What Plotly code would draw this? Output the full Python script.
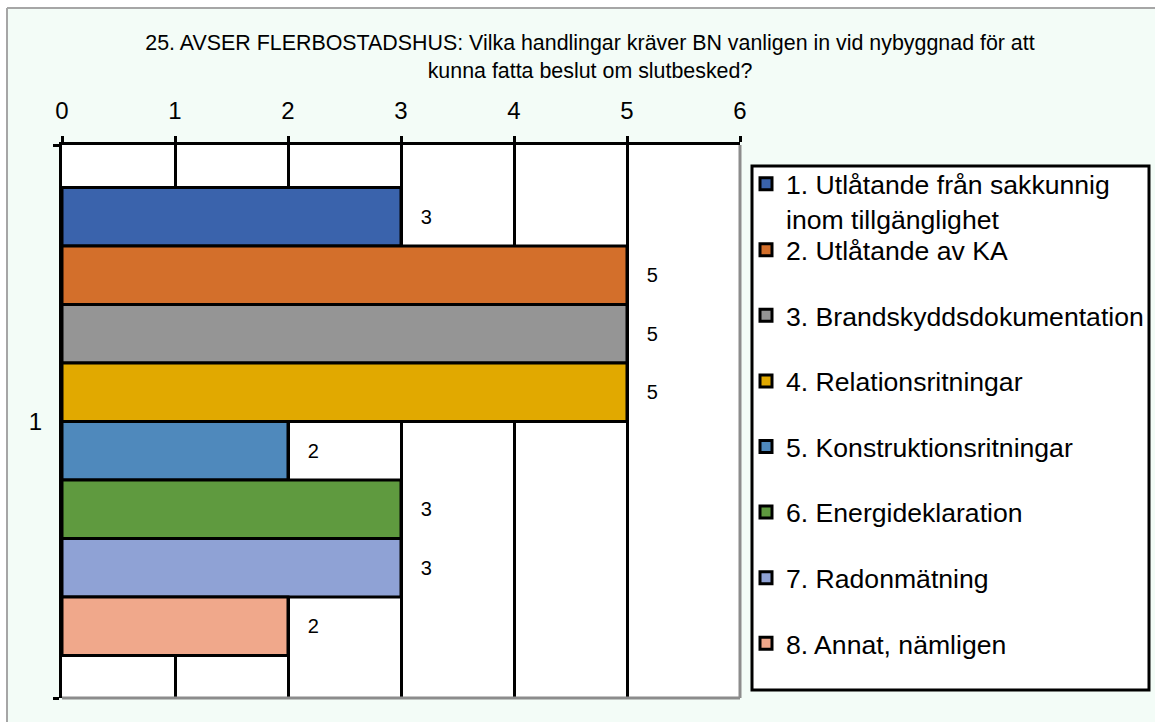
import plotly.graph_objects as go

# ---------------- data ----------------
categories = ["1"]
series_names = [
    "1. Utlåtande från sakkunnig<br>inom tillgänglighet",
    "2. Utlåtande av KA",
    "3. Brandskyddsdokumentation",
    "4. Relationsritningar",
    "5. Konstruktionsritningar",
    "6. Energideklaration",
    "7. Radonmätning",
    "8. Annat, nämligen",
]
series_values = [3, 5, 5, 5, 2, 3, 3, 2]
series_colors = ["#3A63AC", "#D36F2B", "#959595", "#E1A900",
                 "#4F89BC", "#5F9A3F", "#8FA2D5", "#F0A88B"]
x_tick_values = [0, 1, 2, 3, 4, 5, 6]
title_text = ("25. AVSER FLERBOSTADSHUS: Vilka handlingar kräver BN vanligen in vid nybyggnad för att"
              "<br>kunna fatta beslut om slutbesked?")

# ---------------- layout geometry ----------------
W, H = 1155, 722
ML, MR, MT, MB = 62, 415, 145, 24
PW, PH = W - ML - MR, H - MT - MB


def px_x(p):
    return (p - ML) / PW


def px_y(p):
    return (H - MB - p) / PH


FONT = "Liberation Sans, Arial, sans-serif"
NBSP = "\u00a0"

fig = go.Figure()
for i, (name, val, col) in enumerate(zip(series_names, series_values, series_colors)):
    fig.add_trace(go.Bar(
        y=categories,
        x=[val],
        orientation="h",
        name=name,
        marker=dict(color=col, line=dict(color="black", width=3)),
        text=[val],
        texttemplate=NBSP * 3 + "%{x}",
        textposition="outside",
        textfont=dict(size=20, color="black", family=FONT),
        cliponaxis=False,
        legend="legend" if i == 0 else "legend2",
        legendgroup=f"g{i}",
        hoverinfo="x+name",
    ))

MINT = "#F3FCF7"
GRAY = "#8C8C8C"
shapes = [
    # chart background (mint) inside thin outer border
    dict(type="rect", xref="paper", yref="paper", layer="below",
         x0=px_x(7), x1=px_x(W + 5), y0=px_y(H + 5), y1=px_y(8),
         fillcolor=MINT, line=dict(width=0)),
    dict(type="line", xref="paper", yref="paper", layer="below",
         x0=px_x(7), x1=px_x(7), y0=px_y(H + 5), y1=px_y(8),
         line=dict(color="#A6A6A6", width=2)),
    dict(type="line", xref="paper", yref="paper", layer="below",
         x0=px_x(7), x1=px_x(W + 5), y0=px_y(8), y1=px_y(8),
         line=dict(color="#A6A6A6", width=2)),
    # white plot area
    dict(type="rect", xref="paper", yref="paper", layer="below",
         x0=0, x1=1, y0=0, y1=1, fillcolor="white", line=dict(width=0)),
    # legend box
    dict(type="rect", xref="paper", yref="paper", layer="below",
         x0=px_x(752), x1=px_x(1149), y0=px_y(690), y1=px_y(166),
         fillcolor="white", line=dict(color="black", width=3)),
    # gray right and bottom plot-area border
    dict(type="line", xref="paper", yref="paper", layer="above",
         x0=1, x1=1, y0=0, y1=1, line=dict(color=GRAY, width=3)),
    dict(type="line", xref="paper", yref="paper", layer="above",
         x0=0, x1=1, y0=0, y1=0, line=dict(color=GRAY, width=3)),
]

legend_common = dict(
    xanchor="left", yanchor="top",
    bgcolor="rgba(0,0,0,0)", borderwidth=0,
    font=dict(size=26.6, color="black", family=FONT),
    valign="top", itemwidth=30,
)

fig.update_layout(
    width=W, height=H,
    margin=dict(l=ML, r=MR, t=MT, b=MB, pad=0, autoexpand=False),
    paper_bgcolor="white",
    plot_bgcolor="rgba(0,0,0,0)",
    font=dict(family=FONT, color="black"),
    barmode="group",
    bargap=0.154,
    bargroupgap=0,
    title=dict(
        text=title_text,
        x=590 / W, xref="container", xanchor="center",
        y=1 - 50 / H, yref="container", yanchor="top",
        font=dict(size=21.4, color="black", family=FONT),
    ),
    xaxis=dict(
        side="top", range=[0, 6], tickvals=x_tick_values,
        showgrid=True, gridcolor="black", gridwidth=3,
        showline=True, linecolor="black", linewidth=3,
        ticks="outside", ticklen=6, tickwidth=3, tickcolor="black",
        tickfont=dict(size=24, color="black", family=FONT),
        ticklabelstandoff=7,
        zeroline=False, fixedrange=True,
    ),
    yaxis=dict(
        type="category", autorange="reversed",
        showgrid=False, showline=True, linecolor="black", linewidth=3,
        ticks="outside", tickson="boundaries", ticklen=6, tickwidth=3,
        tickcolor="black",
        tickfont=dict(size=24, color="black", family=FONT),
        ticklabelstandoff=12, fixedrange=True,
    ),
    legend=dict(x=px_x(746), y=px_y(160), **legend_common),
    legend2=dict(x=px_x(746), y=px_y(226), tracegroupgap=28,
                 traceorder="grouped", **legend_common),
    shapes=shapes,
    showlegend=True,
)

fig.write_html("out.html",
               config={"displayModeBar": False},
               post_script="document.body.style.margin='0';document.body.style.overflow='hidden';")
